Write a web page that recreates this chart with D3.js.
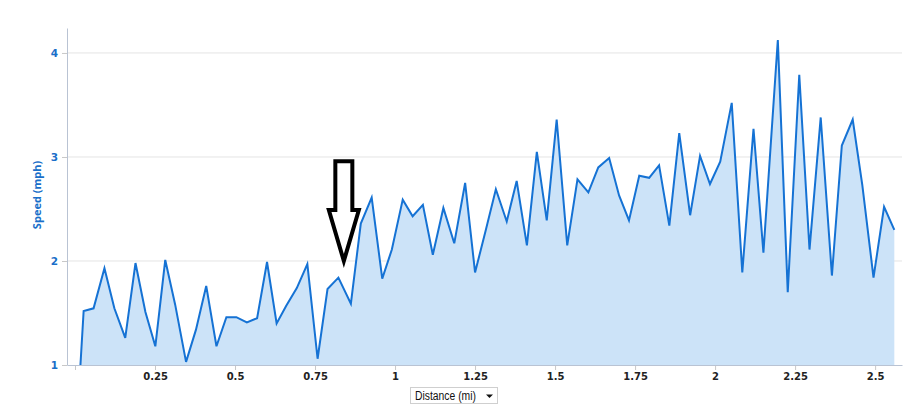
<!DOCTYPE html>
<html>
<head>
<meta charset="utf-8">
<script src="https://cdnjs.cloudflare.com/ajax/libs/d3/7.8.5/d3.min.js"></script>
<style>
  body { margin: 0; background: #fff; }
  svg { display: block; }
</style>
</head>
<body>
<div id="chart"></div>
<script>
var distance = [
  0.017, 0.027, 0.058, 0.092, 0.123, 0.157, 0.189, 0.220, 0.251, 0.282,
  0.313, 0.347, 0.378, 0.410, 0.442, 0.473, 0.504, 0.537, 0.569, 0.600,
  0.630, 0.660, 0.693, 0.726, 0.758, 0.789, 0.823, 0.862, 0.893, 0.927,
  0.960, 0.990, 1.024, 1.055, 1.087, 1.118, 1.151, 1.185, 1.219, 1.250,
  1.283, 1.315, 1.349, 1.380, 1.412, 1.443, 1.474, 1.505, 1.538, 1.570,
  1.604, 1.635, 1.669, 1.700, 1.731, 1.763, 1.794, 1.825, 1.857, 1.888,
  1.922, 1.953, 1.984, 2.016, 2.052, 2.085, 2.120, 2.151, 2.196, 2.227,
  2.263, 2.295, 2.330, 2.365, 2.396, 2.430, 2.460, 2.495, 2.528, 2.560
];

var speed = [
  1.00, 1.52, 1.545, 1.93, 1.545, 1.26, 1.98, 1.51, 1.18, 2.01,
  1.58, 1.03, 1.34, 1.76, 1.18, 1.46, 1.46, 1.41, 1.45, 1.99,
  1.40, 1.57, 1.74, 1.97, 1.06, 1.73, 1.84, 1.59, 2.36, 2.61,
  1.83, 2.11, 2.59, 2.43, 2.54, 2.06, 2.51, 2.17, 2.75, 1.89,
  2.29, 2.69, 2.38, 2.77, 2.15, 3.05, 2.39, 3.36, 2.15, 2.785,
  2.66, 2.90, 2.99, 2.63, 2.39, 2.82, 2.80, 2.92, 2.34, 3.23,
  2.44, 3.01, 2.74, 2.955, 3.52, 1.89, 3.27, 2.08, 4.125, 1.70,
  3.79, 2.11, 3.38, 1.86, 3.11, 3.36, 2.73, 1.84, 2.52, 2.30
];

var xTicks = [0, 0.25, 0.5, 0.75, 1, 1.25, 1.5, 1.75, 2, 2.25, 2.5];
var xTickLabels = ["", "0.25", "0.5", "0.75", "1", "1.25", "1.5", "1.75", "2", "2.25", "2.5"];
var yTicks = [1, 2, 3, 4];
var yTickLabels = ["1", "2", "3", "4"];

// arrow annotation: distance, tip speed, head base speed, top speed
var arrowAt = {dist: 0.84, tip: 2.0, head: 2.49, top: 2.96};

var width = 907, height = 408;
var margin = {'left': 67, 'right': 5, 'top': 28, 'bottom': 43};

var svg = d3.select('#chart').append('svg')
  .attr("width", width)
  .attr("height", height);

var x = d3.scaleLinear().domain([-0.025, 2.584]).range([margin.left, width - margin.right]);
var y = d3.scaleLinear().domain([1, 4.24]).range([height - margin.bottom, margin.top]);

var data = distance.map(function(d, i){ return [d, speed[i]]; });

// grid lines
svg.append("g")
  .selectAll("line")
  .data(yTicks.slice(1))
  .enter().append("line")
    .attr("x1", x.range()[0])
    .attr("x2", x.range()[1])
    .attr("y1", d => y(d))
    .attr("y2", d => y(d))
    .attr("stroke", "#e4e4e4")
    .attr("stroke-width", 1);

// area + line
var area = d3.area()
  .x(d => x(d[0]))
  .y0(y(1))
  .y1(d => y(d[1]));

var line = d3.line()
  .x(d => x(d[0]))
  .y(d => y(d[1]));

svg.append("path")
  .datum(data)
  .attr("d", area)
  .attr("fill", "#cce3f8");

svg.append("path")
  .datum(data)
  .attr("d", line)
  .attr("fill", "none")
  .attr("stroke", "#1572d4")
  .attr("stroke-width", 2)
  .attr("stroke-linejoin", "miter");

// axes
var xAxis = d3.axisBottom(x)
  .tickValues(xTicks)
  .tickSize(4)
  .tickSizeOuter(0)
  .tickPadding(4)
  .tickFormat((d, i) => xTickLabels[i]);

var yAxis = d3.axisLeft(y)
  .tickValues(yTicks)
  .tickSize(5)
  .tickSizeOuter(0)
  .tickPadding(4)
  .tickFormat((d, i) => yTickLabels[i]);

var gx = svg.append("g")
  .attr("class", "x axis")
  .attr("transform", "translate(0," + y(1) + ")")
  .call(xAxis);

gx.select(".domain").attr("stroke", "#b9c3d3");
gx.selectAll(".tick line").attr("stroke", "#c8c8c8").attr("transform", "translate(0,1)");
gx.selectAll(".tick text")
  .attr("fill", "#222")
  .style("font-family", "DejaVu Sans")
  .style("font-weight", "bold")
  .style("font-size", "10px");

var gy = svg.append("g")
  .attr("class", "y axis")
  .attr("transform", "translate(" + margin.left + ",0)")
  .call(yAxis);

gy.select(".domain").attr("stroke", "#b9c3d3");
gy.selectAll(".tick line").attr("stroke", "#c8c8c8");
gy.selectAll(".tick text")
  .attr("fill", "#1a6fc9")
  .style("font-family", "DejaVu Sans")
  .style("font-weight", "bold")
  .style("font-size", "10.5px");

// y axis title
svg.append("text")
  .attr("transform", "translate(41," + 195 + ") rotate(-90)")
  .attr("text-anchor", "middle")
  .attr("fill", "#1a6fc9")
  .style("font-family", "Open Sans")
  .style("font-weight", "bold")
  .style("font-size", "11px")
  .text("Speed (mph)");

// x axis dropdown
var drop = svg.append("g").attr("transform", "translate(410,387)");
drop.append("rect")
  .attr("x", 0.5).attr("y", 0.5)
  .attr("width", 87).attr("height", 16)
  .attr("fill", "#fff")
  .attr("stroke", "#cfcfcf");
drop.append("text")
  .attr("x", 5).attr("y", 12.5)
  .attr("fill", "#111")
  .attr("textLength", 61)
  .attr("lengthAdjust", "spacingAndGlyphs")
  .style("font-family", "Liberation Sans")
  .style("font-size", "12.5px")
  .text("Distance (mi)");
drop.append("path")
  .attr("d", "M76,7.5 L83,7.5 L79.5,11 Z")
  .attr("fill", "#111");

// arrow annotation
var ax = x(arrowAt.dist), shaftW = 8.5, headW = 15;
var arrowPts = [
  [ax - shaftW, y(arrowAt.top)],
  [ax + shaftW, y(arrowAt.top)],
  [ax + shaftW, y(arrowAt.head)],
  [ax + headW, y(arrowAt.head)],
  [ax, y(arrowAt.tip)],
  [ax - headW, y(arrowAt.head)],
  [ax - shaftW, y(arrowAt.head)]
];
svg.append("path")
  .attr("d", d3.line()(arrowPts) + "Z")
  .attr("fill", "none")
  .attr("stroke", "#000")
  .attr("stroke-width", 4)
  .attr("stroke-linejoin", "miter");
</script>
</body>
</html>
